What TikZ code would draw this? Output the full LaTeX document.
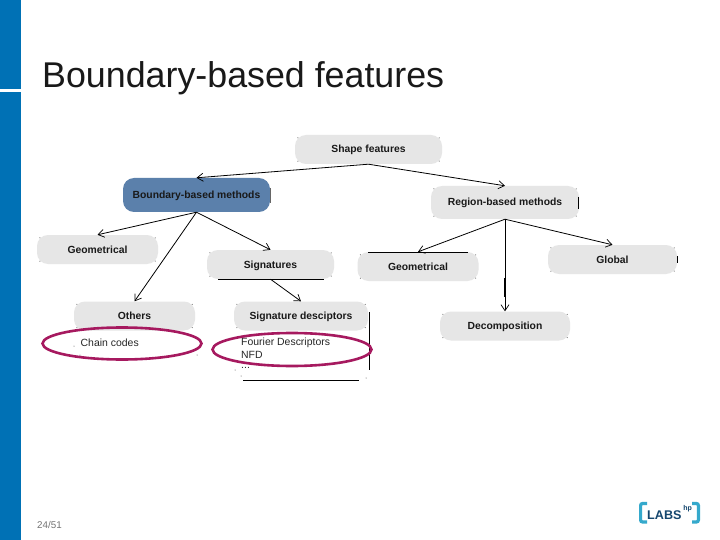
\documentclass[tikz,border=0pt]{standalone}
\usepackage{fontspec}
\setmainfont{Liberation Sans}
\usetikzlibrary{arrows.meta,calc}
\definecolor{barblue}{HTML}{0071B5}
\definecolor{boxgray}{HTML}{E6E6E6}
\definecolor{boxblue}{HTML}{5B80AB}
\definecolor{ringc}{HTML}{A6195F}
\definecolor{logoteal}{HTML}{35A9CC}
\definecolor{logonavy}{HTML}{14466E}
\newcommand{\lblfont}{\fontsize{10.35}{12}\selectfont\bfseries}
\newcommand{\specks}[1]{%
  \fill[black!70] ($(#1.north west)+(3,3)$) circle[radius=0.5];
  \fill[black!70] ($(#1.north east)+(-3,3)$) circle[radius=0.5];
  \fill[black!70] ($(#1.south west)+(3,-3)$) circle[radius=0.5];
  \fill[black!70] ($(#1.south east)+(-3,-3)$) circle[radius=0.5];
}
\tikzset{
  x=1pt,y=-1pt,
  box/.style={draw=none,fill=boxgray,rounded corners=11pt,inner sep=0pt,font=\lblfont,text=black!90,
    text height=8.5pt,text depth=1.5pt,minimum width=#1},
  conn/.style={draw=black,line width=0.8pt,-{Straight Barb[length=6pt,width=8pt,line width=0.7pt]}},
  edgeline/.style={draw=black,line width=0.9pt},
  ring/.style={draw=ringc,line width=2.6pt},
  plain/.style={font=\fontsize{10.45}{12}\selectfont,text=black!85,inner sep=0pt,anchor=west}
}
\begin{document}
\begin{tikzpicture}
\useasboundingbox (0,0) rectangle (720,540);
\fill[white] (0,0) rectangle (720,540);
\fill[barblue] (0,0) rectangle (21,89);
\fill[barblue] (0,92) rectangle (21,540);
\node[anchor=base west,inner sep=0pt,font=\fontsize{35.8}{38}\selectfont,text=black!90] (title) at (42,87.5) {Boundary-based features};
% nodes
\node[box=147pt,minimum height=29pt] (shape) at (368.5,149.5) {Shape features};
\node[box=147pt,minimum height=34pt,fill=boxblue] (bnd) at (196.5,195) {Boundary-based methods};
\node[box=148pt,minimum height=33pt] (reg) at (505,202.5) {Region-based methods};
\node[box=121pt,minimum height=29pt] (geoL) at (97.5,249.5) {Geometrical};
\node[box=127pt,minimum height=29pt] (sig) at (270.5,264.5) {Signatures};
\node[box=121pt,minimum height=29pt] (geoR) at (418,266.5) {Geometrical};
\node[box=129pt,minimum height=29pt] (glob) at (612.5,259.5) {Global};
\node[box=121pt,minimum height=29pt] (oth) at (134.5,316) {Others};
\node[box=134pt,minimum height=29pt] (sdesc) at (301,316) {Signature desciptors};
\node[box=130pt,minimum height=29pt] (dec) at (505,326) {Decomposition};
\specks{shape}\specks{reg}\specks{geoL}\specks{sig}\specks{geoR}\specks{glob}\specks{oth}\specks{sdesc}\specks{dec}
% plain text
\node[plain] (chain) at (80.5,342.5) {Chain codes};
\node[plain] (four) at (241,342.5) {Fourier Descriptors};
\node[plain] (nfd) at (241,355) {NFD};
\node[plain] (dots) at (241,368) {...};
% outline remnants
\draw[edgeline] (218,279) -- (324,279);
\draw[edgeline] (368,252) -- (468,252);
\draw[edgeline] (578.5,197) -- (578.5,209);
\draw[black!60,line width=0.7pt] (270.3,188) -- (270.3,203);
\draw[edgeline] (677,256) -- (677,263);
\draw[edgeline] (369,312) -- (369,370);
\draw[edgeline] (243,380) -- (359,380);
\fill[black!70] (74,346) circle[radius=0.5] (80,355) circle[radius=0.5] (235,370) circle[radius=0.5] (241,376) circle[radius=0.5] (197,355) circle[radius=0.5] (366,378) circle[radius=0.5];
% connectors
\draw[conn] (shape.south) -- (bnd.north);
\draw[conn] (shape.south) -- (reg.north);
\draw[conn] (bnd.south) -- (geoL.north);
\draw[conn] (bnd.south) -- (oth.north);
\draw[conn] (bnd.south) -- (sig.north);
\draw[conn] (sig.south) -- (sdesc.north);
\draw[conn] (reg.south) -- (geoR.north);
\draw[conn] (reg.south) -- (dec.north);
\draw[conn] (reg.south) -- (glob.north);
\draw[black,line width=1.5pt] (505,278) -- (505,297);
% rings
\draw[ring] (122,343.5) ellipse [x radius=79.5,y radius=16];
\draw[ring] (292,349.5) ellipse [x radius=79.5,y radius=16.5];
% page number
\node[anchor=base west,inner sep=0pt,font=\fontsize{9.8}{10}\selectfont,text=black!55] (page) at (37,528) {24/51};
% logo
\draw[logoteal,line width=3.2pt,rounded corners=2pt] (647,503.5) -- (640.6,503.5) -- (640.6,522) -- (647,522);
\draw[logoteal,line width=3.2pt,rounded corners=2pt] (692,503.5) -- (698.4,503.5) -- (698.4,522) -- (692,522);
\node[anchor=base west,inner sep=0pt,font=\fontsize{12.6}{13}\selectfont\bfseries,text=logonavy] (labs) at (647,519) {LABS};
\node[anchor=base west,inner sep=0pt,font=\fontsize{7}{7}\selectfont\bfseries,text=logonavy] (hp) at (683.2,510.5) {hp};
\end{tikzpicture}
\end{document}
